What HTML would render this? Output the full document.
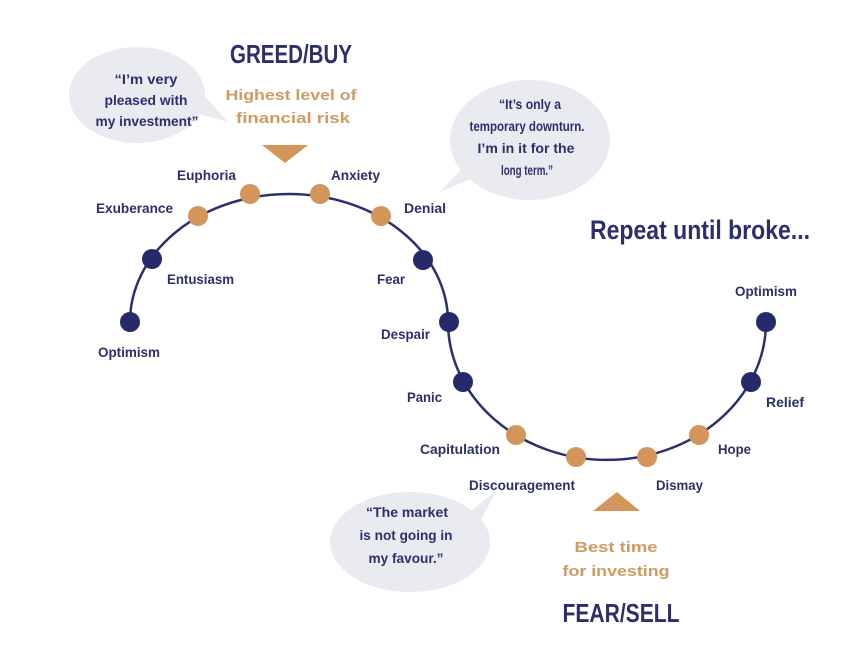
<!DOCTYPE html>
<html><head><meta charset="utf-8"><style>
html,body{margin:0;padding:0;background:#fff}
svg{display:block}
.n{font-family:"Liberation Sans",sans-serif;font-weight:bold;fill:#2b2f6e;font-size:14px}
.o{font-family:"Liberation Sans",sans-serif;font-weight:bold;fill:#d09a63;font-size:15px}
</style></head><body>
<svg width="850" height="663" viewBox="0 0 850 663" xmlns="http://www.w3.org/2000/svg">
<rect width="850" height="663" fill="#fff"/>
<g fill="#e9ebf1">
<ellipse cx="137" cy="95" rx="68" ry="48"/>
<path d="M185,110 L228,122 L190,80 Z"/>
<ellipse cx="530" cy="140" rx="80" ry="60"/>
<path d="M470,160 L440,192 L480,175 Z"/>
<ellipse cx="410" cy="542" rx="80" ry="50"/>
<path d="M460,520 L497,490 L470,540 Z"/>
</g>
<path d="M130,322 A159,128 0 0 1 448,322 A159,138 0 0 0 766,322" fill="none" stroke="#2b2f6e" stroke-width="2.5"/>
<g fill="#262a6b">
<circle cx="130" cy="322" r="10"/><circle cx="152" cy="259" r="10"/>
<circle cx="423" cy="260" r="10"/><circle cx="449" cy="322" r="10"/>
<circle cx="463" cy="382" r="10"/><circle cx="751" cy="382" r="10"/>
<circle cx="766" cy="322" r="10"/>
</g>
<g fill="#d4955a">
<circle cx="198" cy="216" r="10"/><circle cx="250" cy="194" r="10"/>
<circle cx="320" cy="194" r="10"/><circle cx="381" cy="216" r="10"/>
<circle cx="516" cy="435" r="10"/><circle cx="576" cy="457" r="10"/>
<circle cx="647" cy="457" r="10"/><circle cx="699" cy="435" r="10"/>
</g>
<path d="M262,145 L308,145 L285,163 Z" fill="#d4955a"/>
<path d="M593,511 L640,511 L617,492 Z" fill="#d4955a"/>
<g text-anchor="middle">
<text x="291" y="63" class="n" style="font-size:26px" textLength="122" lengthAdjust="spacingAndGlyphs">GREED/BUY</text>
<text x="291" y="100" class="o" textLength="131" lengthAdjust="spacingAndGlyphs">Highest level of</text>
<text x="293" y="123" class="o" textLength="114" lengthAdjust="spacingAndGlyphs">financial risk</text>
<text x="700" y="239" class="n" style="font-size:27px" textLength="220" lengthAdjust="spacingAndGlyphs">Repeat until broke...</text>
<text x="616" y="552" class="o" textLength="83" lengthAdjust="spacingAndGlyphs">Best time</text>
<text x="616" y="576" class="o" textLength="107" lengthAdjust="spacingAndGlyphs">for investing</text>
<text x="621" y="622" class="n" style="font-size:26px" textLength="117" lengthAdjust="spacingAndGlyphs">FEAR/SELL</text>
<text x="146" y="84" class="n" textLength="63" lengthAdjust="spacingAndGlyphs">“I’m very</text>
<text x="146" y="105" class="n" textLength="83" lengthAdjust="spacingAndGlyphs">pleased with</text>
<text x="147" y="126" class="n" textLength="103" lengthAdjust="spacingAndGlyphs">my investment”</text>
<text x="530" y="109" class="n" textLength="62" lengthAdjust="spacingAndGlyphs">“It’s only a</text>
<text x="527" y="131" class="n" textLength="115" lengthAdjust="spacingAndGlyphs">temporary downturn.</text>
<text x="526" y="153" class="n" textLength="97" lengthAdjust="spacingAndGlyphs">I’m in it for the</text>
<text x="527" y="175" class="n" textLength="52" lengthAdjust="spacingAndGlyphs">long term.”</text>
<text x="407" y="517" class="n" textLength="82" lengthAdjust="spacingAndGlyphs">“The market</text>
<text x="406" y="540" class="n" textLength="93" lengthAdjust="spacingAndGlyphs">is  not going in</text>
<text x="406" y="563" class="n" textLength="75" lengthAdjust="spacingAndGlyphs">my favour.”</text>
</g>
<text x="98" y="357" class="n" textLength="62" lengthAdjust="spacingAndGlyphs">Optimism</text>
<text x="167" y="284" class="n" textLength="67" lengthAdjust="spacingAndGlyphs">Entusiasm</text>
<text x="96" y="213" class="n" textLength="77" lengthAdjust="spacingAndGlyphs">Exuberance</text>
<text x="177" y="180" class="n" textLength="59" lengthAdjust="spacingAndGlyphs">Euphoria</text>
<text x="331" y="180" class="n" textLength="49" lengthAdjust="spacingAndGlyphs">Anxiety</text>
<text x="404" y="213" class="n" textLength="42" lengthAdjust="spacingAndGlyphs">Denial</text>
<text x="377" y="284" class="n" textLength="28" lengthAdjust="spacingAndGlyphs">Fear</text>
<text x="381" y="339" class="n" textLength="49" lengthAdjust="spacingAndGlyphs">Despair</text>
<text x="407" y="402" class="n" textLength="35" lengthAdjust="spacingAndGlyphs">Panic</text>
<text x="420" y="454" class="n" textLength="80" lengthAdjust="spacingAndGlyphs">Capitulation</text>
<text x="469" y="490" class="n" textLength="106" lengthAdjust="spacingAndGlyphs">Discouragement</text>
<text x="656" y="490" class="n" textLength="47" lengthAdjust="spacingAndGlyphs">Dismay</text>
<text x="718" y="454" class="n" textLength="33" lengthAdjust="spacingAndGlyphs">Hope</text>
<text x="766" y="407" class="n" textLength="38" lengthAdjust="spacingAndGlyphs">Relief</text>
<text x="735" y="296" class="n" textLength="62" lengthAdjust="spacingAndGlyphs">Optimism</text>
</svg>
</body></html>
